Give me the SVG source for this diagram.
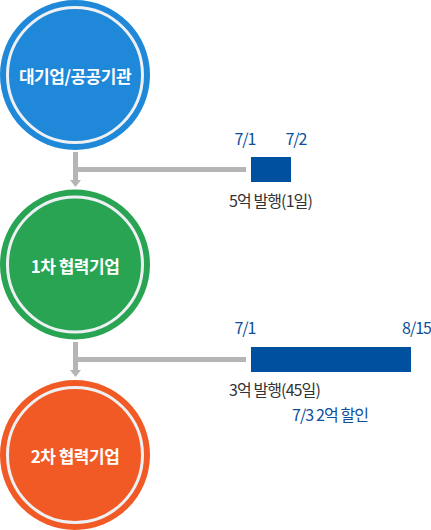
<svg xmlns="http://www.w3.org/2000/svg" width="431" height="530" viewBox="0 0 431 530">
<defs>
<style>
.ring{stroke:#eef0f4;stroke-width:3}
.node-text{font-family:"Noto Sans CJK KR","Noto Sans",sans-serif;font-weight:bold;font-size:17px;fill:#fff;text-anchor:middle;letter-spacing:-0.5px}
.date{font-family:"Noto Sans CJK KR","Noto Sans",sans-serif;font-size:16px;fill:#0d4f9c;text-anchor:middle;letter-spacing:-1px}
.note{font-family:"Noto Sans CJK KR","Noto Sans",sans-serif;font-size:16px;fill:#333;letter-spacing:-0.9px}
.note-blue{font-family:"Noto Sans CJK KR","Noto Sans",sans-serif;font-size:16px;fill:#0d4f9c;letter-spacing:-0.9px}
.conn{fill:#b5b5b5}
.bar{fill:#0050a0}
</style>
</defs>
<rect width="431" height="530" fill="#fff"/>
<g id="node-large">
<circle cx="75" cy="75" r="75" fill="#1f88d9"/>
<circle cx="75" cy="75" r="67.5" fill="#1f88d9" class="ring"/>
<text x="75" y="83" class="node-text">대기업/공공기관</text>
</g>
<g id="node-first">
<circle cx="75" cy="264.5" r="75" fill="#28a453"/>
<circle cx="75" cy="264.5" r="67.5" fill="#28a453" class="ring"/>
<text x="75" y="273" class="node-text">1차 협력기업</text>
</g>
<g id="node-second">
<circle cx="75" cy="455" r="75" fill="#f15a24"/>
<circle cx="75" cy="455" r="67.5" fill="#f15a24" class="ring"/>
<text x="75" y="463" class="node-text">2차 협력기업</text>
</g>
<g id="connectors">
<rect x="73" y="152" width="5" height="29" class="conn"/>
<polygon points="70,180 81,180 75.5,187" class="conn"/>
<rect x="78" y="167" width="168" height="5" class="conn"/>
<rect x="73" y="342" width="5" height="29" class="conn"/>
<polygon points="70,370 81,370 75.5,377" class="conn"/>
<rect x="78" y="357" width="168" height="5" class="conn"/>
</g>
<g id="timeline-1">
<text x="245" y="145" class="date">7/1</text>
<text x="296" y="145" class="date">7/2</text>
<rect x="251" y="157" width="40" height="25" class="bar"/>
<text x="229" y="207" class="note">5억 발행(1일)</text>
</g>
<g id="timeline-2">
<text x="245" y="334" class="date">7/1</text>
<text x="431" y="334" class="date" style="text-anchor:end">8/15</text>
<rect x="251" y="347" width="160" height="25" class="bar"/>
<text x="229" y="396" class="note">3억 발행(45일)</text>
<text x="292" y="421" class="note-blue">7/3 2억 할인</text>
</g>
</svg>
